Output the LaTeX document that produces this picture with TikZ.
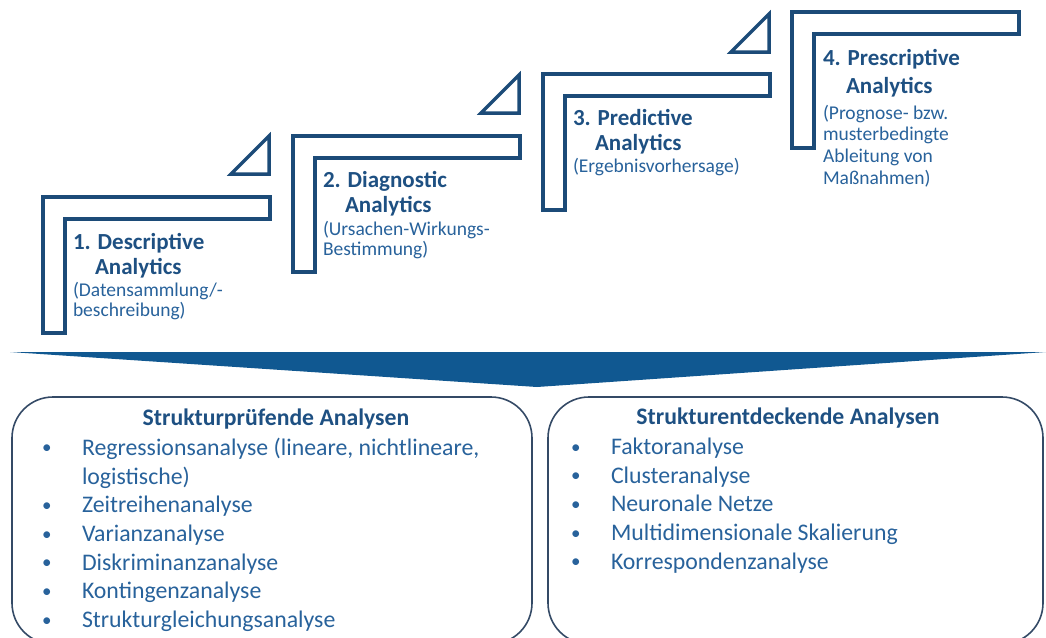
\documentclass[tikz,border=0pt]{standalone}
\usepackage{fontspec}
\setmainfont{Carlito}
\usepackage{tikz}
\definecolor{stepcol}{RGB}{28, 75, 120}
\definecolor{headcol}{RGB}{30, 80, 130}
\definecolor{textcol}{RGB}{40, 98, 155}
\definecolor{bandcol}{RGB}{16, 88, 145}
\definecolor{framecol}{RGB}{52, 74, 102}
\newcommand{\listdot}{\makebox[42pt][l]{\hspace{2pt}\raisebox{1.5pt}{\fontsize{19}{19}\selectfont•}}}
\usetikzlibrary{positioning}

\begin{document}
\begin{tikzpicture}
		[x=1pt, y=-1pt, every node/.style={inner sep=0pt, outer sep=0pt},
		 stair/.style={line width=3.5pt, draw=stepcol, line join=miter},
		 steptitle/.style={align=left, text=headcol, font=\fontsize{23}{25}\selectfont\bfseries},
		 stepdesc/.style={align=left, text=textcol, font=\fontsize{19.5}{20.5}\selectfont},
		 listbox/.style={draw=framecol, line width=1.6pt, rounded corners=41pt, minimum height=247pt},
		 boxhead/.style={text=headcol, font=\fontsize{23.7}{28.7}\selectfont\bfseries},
		 listtext/.style={align=left, text=textcol, font=\fontsize{23.8}{28.7}\selectfont}]
		\useasboundingbox (0,0) rectangle (1046,637);
		% stairs
		\draw [stair] (43,197) -- ++(227,0) -- ++(0,22) -- ++(-205,0) -- ++(0,114) -- ++(-22,0) -- cycle;
		\draw [stair] (293,136) -- ++(227,0) -- ++(0,22) -- ++(-205,0) -- ++(0,114) -- ++(-22,0) -- cycle;
		\draw [stair] (543,74) -- ++(227,0) -- ++(0,22) -- ++(-205,0) -- ++(0,114) -- ++(-22,0) -- cycle;
		\draw [stair] (792,12) -- ++(227,0) -- ++(0,22) -- ++(-205,0) -- ++(0,114) -- ++(-22,0) -- cycle;
		\draw [stair] (231,174) -- (269,136) -- (269,174) -- cycle;
		\draw [stair] (481,113) -- (519,75) -- (519,113) -- cycle;
		\draw [stair] (731,52) -- (769,14) -- (769,52) -- cycle;
		\node (t1) [steptitle, anchor=north west] at (73,233) {1. Descriptive\\\hspace*{22pt}Analytics};
		\node (d1) [stepdesc, below=4pt of t1.south west, anchor=north west] {(Datensammlung/-\\beschreibung)};
		\node (t2) [steptitle, anchor=north west] at (323,171) {2. Diagnostic\\\hspace*{22pt}Analytics};
		\node (d2) [stepdesc, below=5pt of t2.south west, anchor=north west] {(Ursachen-Wirkungs-\\Bestimmung)};
		\node (t3) [steptitle, anchor=north west] at (573,109) {3. Predictive\\\hspace*{22pt}Analytics};
		\node (d3) [stepdesc, below=4pt of t3.south west, anchor=north west] {(Ergebnisvorhersage)};
		\node (t4) [steptitle, anchor=north west, font=\fontsize{23}{28}\selectfont\bfseries] at (823,49) {4. Prescriptive\\\hspace*{23pt}Analytics};
		\node (d4) [stepdesc, below=8pt of t4.south west, anchor=north west, font=\fontsize{19.5}{21.7}\selectfont] {(Prognose- bzw.\\musterbedingte\\Ableitung von\\Maßnahmen)};
		% funnel
		\fill [bandcol] (10,352) -- (1046,352) -- (537,387) -- cycle;
		% boxes
		\node (pruef) [listbox, minimum width=520pt] at (272,520.5) {};
		\node (entdeck) [listbox, minimum width=495pt] at (795.5,520.5) {};
		\node (pruefhead) [boxhead, anchor=base] at (276,425) {Strukturprüfende Analysen};
		\node (entdeckhead) [boxhead, anchor=base] at (788,424) {Strukturentdeckende Analysen};
		\node (pruefliste) [listtext, anchor=north west] at (40,438) {\listdot Regressionsanalyse (lineare, nichtlineare,\\\hspace*{42pt}logistische)\\\listdot Zeitreihenanalyse\\\listdot Varianzanalyse\\\listdot Diskriminanzanalyse\\\listdot Kontingenzanalyse\\\listdot Strukturgleichungsanalyse};
		\node (entdeckliste) [listtext, anchor=north west] at (569,438) {\listdot Faktoranalyse\\\listdot Clusteranalyse\\\listdot Neuronale Netze\\\listdot Multidimensionale Skalierung\\\listdot Korrespondenzanalyse};
\end{tikzpicture}
\end{document}
